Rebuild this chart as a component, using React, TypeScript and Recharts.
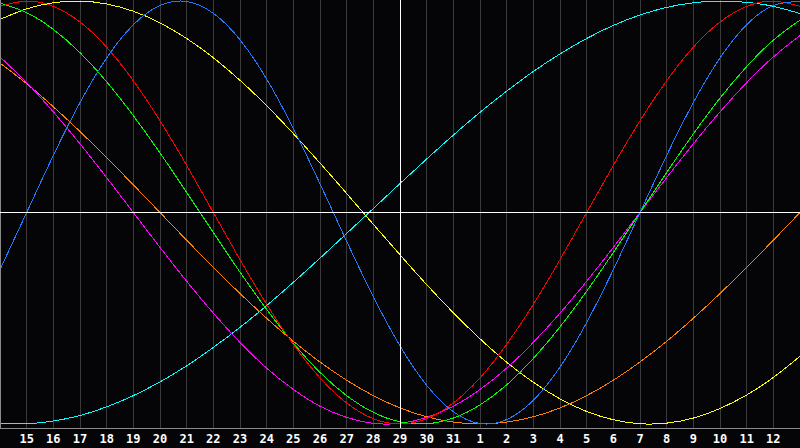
import React from "react";
import { LineChart, Line, XAxis, YAxis, CartesianGrid, ReferenceLine } from "recharts";

const dates = ["14","15","16","17","18","19","20","21","22","23","24","25","26","27","28","29","30","31","1","2","3","4","5","6","7","8","9","10","11","12","13"];
const tickIdx = [1,2,3,4,5,6,7,8,9,10,11,12,13,14,15,16,17,18,19,20,21,22,23,24,25,26,27,28,29];

const physical = [-27.0,0,27.0,52.0,73.1,88.8,97.9,99.8,94.2,81.7,63.1,39.8,13.6,-13.6,-39.8,-63.1,-81.7,-94.2,-99.8,-97.9,-88.8,-73.1,-52.0,-27.0,0,27.0,52.0,73.1,88.8,97.9,99.8];
const emotional = [97.5,100,97.5,90.1,78.2,62.3,43.4,22.3,0,-22.3,-43.4,-62.3,-78.2,-90.1,-97.5,-100,-97.5,-90.1,-78.2,-62.3,-43.4,-22.3,0,22.3,43.4,62.3,78.2,90.1,97.5,100,97.5];
const intellectual = [99.0,94.5,86.6,75.6,61.8,45.8,28.2,9.5,-9.5,-28.2,-45.8,-61.8,-75.6,-86.6,-94.5,-99.0,-99.9,-97.2,-91.0,-81.5,-69.0,-54.1,-37.2,-18.9,0,18.9,37.2,54.1,69.0,81.5,91.0];
const intuitive = [73.6,61.4,47.6,32.5,16.5,0,-16.5,-32.5,-47.6,-61.4,-73.6,-83.7,-91.6,-96.9,-99.7,-99.7,-96.9,-91.6,-83.7,-73.6,-61.4,-47.6,-32.5,-16.5,0,16.5,32.5,47.6,61.4,73.6,83.7];
const awareness = [70.7,60.9,50.0,38.3,25.9,13.1,0,-13.1,-25.9,-38.3,-50.0,-60.9,-70.7,-79.3,-86.6,-92.4,-96.6,-99.1,-100,-99.1,-96.6,-92.4,-86.6,-79.3,-70.7,-60.9,-50.0,-38.3,-25.9,-13.1,0];
const aesthetic = [91.3,96.3,99.2,100.0,98.6,95.2,89.7,82.3,73.2,62.5,50.5,37.3,23.4,9.0,-5.6,-20.0,-34.1,-47.4,-59.7,-70.8,-80.3,-88.1,-94.1,-98.0,-99.9,-99.6,-97.2,-92.7,-86.3,-78.0,-68.0];
const spiritual = [-99.8,-99.9,-98.6,-96.0,-91.9,-86.6,-80.1,-72.5,-63.8,-54.3,-44.0,-33.0,-21.6,-9.9,1.9,13.7,25.3,36.6,47.4,57.4,66.7,75.0,82.3,88.5,93.4,97.0,99.2,100.0,99.4,97.5,94.1];

const data = dates.map((d, i) => ({
  i,
  physical: physical[i],
  emotional: emotional[i],
  intellectual: intellectual[i],
  intuitive: intuitive[i],
  awareness: awareness[i],
  aesthetic: aesthetic[i],
  spiritual: spiritual[i],
}));

const series = [
  { key: "spiritual", color: "#00ffff" },
  { key: "aesthetic", color: "#ffff00" },
  { key: "awareness", color: "#ff8000" },
  { key: "intuitive", color: "#ff00ff" },
  { key: "intellectual", color: "#00ff00" },
  { key: "emotional", color: "#ff0000" },
  { key: "physical", color: "#1e7bff" },
];

export default function App() {
  return (
    <div style={{ position: "absolute", left: 0, top: 0, width: 800, height: 448, background: "#050507" }}>
      <LineChart width={800} height={448} data={data} margin={{ top: 0, right: 0, bottom: 0, left: 0 }}>
        <CartesianGrid vertical horizontal={false} stroke="#3a3a3a" shapeRendering="crispEdges" />
        <XAxis
          dataKey="i"
          type="number"
          domain={[0, 30]}
          ticks={tickIdx}
          tickFormatter={(v: number) => dates[v]}
          height={20}
          tickLine={false}
          tickSize={4}
          tickMargin={2}
          interval={0}
          axisLine={{ stroke: "#8a8a8a", shapeRendering: "crispEdges" }}
          tick={{ fill: "#ffffff", fontSize: 12, fontWeight: "bold", fontFamily: "DejaVu Sans Mono" }}
          allowDataOverflow
        />
        <YAxis hide width={0} type="number" domain={[-101.9, 100.5]} allowDataOverflow />
        {series.map((s) => (
          <Line
            key={s.key}
            dataKey={s.key}
            type="natural"
            stroke={s.color}
            strokeWidth={1}
            dot={false}
            activeDot={false}
            isAnimationActive={false}
            shapeRendering="crispEdges"
          />
        ))}
        <ReferenceLine x={0} stroke="#8a8a8a" strokeWidth={2} shapeRendering="crispEdges" />
        <ReferenceLine y={0} stroke="#ffffff" strokeWidth={1} shapeRendering="crispEdges" />
        <ReferenceLine x={15} stroke="#ffffff" strokeWidth={1} shapeRendering="crispEdges" />
      </LineChart>
    </div>
  );
}
